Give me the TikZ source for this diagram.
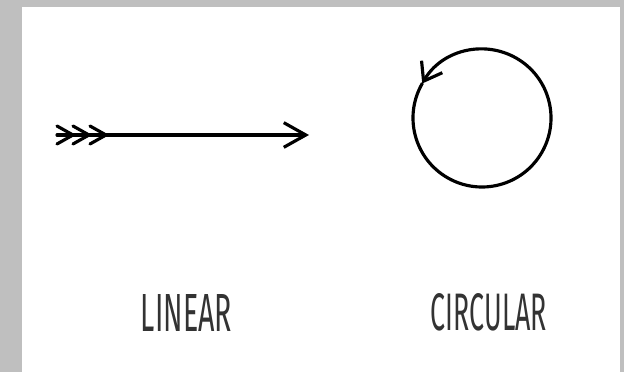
\documentclass[tikz,border=0pt]{standalone}
\usepackage{fontspec}
\setsansfont{Fira Sans}
\usetikzlibrary{arrows.meta}

\begin{document}
\begin{tikzpicture}[x=0.03cm,y=0.03cm,line width=2.7pt,line cap=round,line join=round]
  \tikzset{caption/.style={anchor=base,inner sep=0pt,text=black!80}}
  \useasboundingbox (0,0) rectangle (624,372);
  \fill[black!25] (0,0) rectangle (624,372);
  \fill[white] (22,0) rectangle (620,365);
  % straight path
  \coordinate (tail) at (57,237);
  \coordinate (head) at (309,237);
  \draw[-{Straight Barb[length=6.6mm,width=7.4mm]}] (tail) -- (head);
  \foreach \x in {73,89,106}
    \draw (\x-16,246) -- (\x,237) -- (\x-16,228);
  % loop
  \coordinate (hub) at (482,254);
  \draw[-{Straight Barb[length=5mm,width=7.2mm]}] (hub) ++(-210:69) arc[start angle=-210,end angle=150,radius=69];
  \node[caption] (linear) at (186.5,40) {\resizebox{2.73cm}{1.11cm}{\sffamily LINEAR}};
  \node[caption] (circular) at (489,41) {\resizebox{3.48cm}{1.11cm}{\sffamily CIRCULAR}};
\end{tikzpicture}
\end{document}
